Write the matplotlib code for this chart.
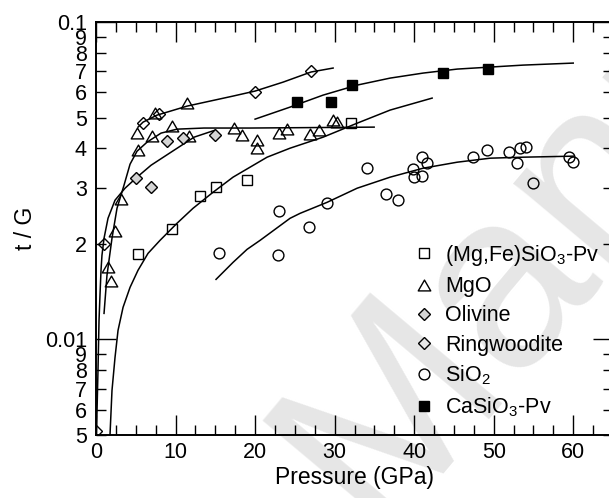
import numpy as np
import matplotlib
matplotlib.use('Agg')
import matplotlib.pyplot as plt
from matplotlib.path import Path

plt.rcParams['font.family'] = ['Liberation Sans', 'DejaVu Sans']
plt.rcParams['mathtext.default'] = 'regular'

# measured points (pressure in GPa, t/G)
pv_p = [5.28, 9.56, 13.08, 15.1, 19.0, 32.1]
pv_t = [0.01854, 0.02223, 0.02825, 0.03017, 0.03177, 0.04800]

mgo_p = [1.51, 1.89, 2.39, 3.14, 5.16, 5.28, 7.04, 7.42, 9.56, 11.45, 11.7,
         17.36, 18.36, 20.25, 20.25, 23.02, 24.03, 26.9, 28.05, 29.81, 30.31]
mgo_t = [0.01687, 0.01524, 0.02194, 0.02767, 0.04467, 0.03948, 0.04366, 0.05164,
         0.04698, 0.05551, 0.04366, 0.04634, 0.04399, 0.04246, 0.04009, 0.04467,
         0.04597, 0.04433, 0.04563, 0.04909, 0.04836]

ol_p = [5.03, 6.92, 8.93, 10.94, 14.97]
ol_t = [0.03221, 0.03017, 0.04217, 0.04307, 0.04399]

rw_p = [0.0, 1.01, 5.91, 7.92, 20.0, 27.04]
rw_t = [0.005164, 0.01994, 0.04800, 0.05129, 0.06015, 0.07005]

sio2_p = [15.47, 22.89, 23.02, 26.79, 29.06, 34.09, 36.48, 37.99, 39.87, 40.0, 41.01,
          41.64, 41.01, 47.42, 49.18, 51.95, 52.96, 53.33, 54.09, 54.97, 59.5, 60.0]
sio2_t = [0.01867, 0.01841, 0.02533, 0.02256, 0.02685, 0.03463, 0.02867, 0.02745,
          0.03438, 0.03245, 0.03751, 0.03591, 0.03269, 0.03751, 0.03946, 0.03890,
          0.03591, 0.04004, 0.04034, 0.03105, 0.03751, 0.03617]

capv_p = [25.28, 29.56, 32.2, 43.65, 49.3]
capv_t = [0.05592, 0.05592, 0.06327, 0.06904, 0.07107]

# fitted curves
fitA_p = [0.05, 0.13, 0.25, 0.38, 0.50, 0.63, 0.75, 1.01, 1.51, 2.39, 3.65, 5.16,
          6.92, 9.43, 12.33, 14.97]
fitA_t = [0.0050, 0.00597, 0.00799, 0.01148, 0.01376, 0.01651, 0.01841, 0.02083,
          0.02408, 0.02745, 0.02995, 0.03245, 0.03538, 0.03889, 0.04337, 0.04563]

fitB_p = [1.01, 1.38, 2.01, 2.64, 3.52, 4.28, 5.16, 6.42, 8.18, 10.19, 13.58, 19.37, 34.97]
fitB_t = [0.01208, 0.01592, 0.02083, 0.02589, 0.03060, 0.03565, 0.03918, 0.04183,
          0.04467, 0.04597, 0.04634, 0.04634, 0.04665]

fitC_p = [5.28, 5.91, 7.67, 11.45, 17.23, 20.0, 23.52, 27.04, 29.81]
fitC_t = [0.04665, 0.04836, 0.05088, 0.05433, 0.05843, 0.06059, 0.06465, 0.06958, 0.07160]

fitD_p = [1.76, 2.01, 2.39, 2.77, 3.40, 4.28, 5.28, 6.54, 8.05, 10.19, 12.20, 14.72,
          17.23, 21.51, 24.40, 28.55, 32.83, 36.98, 42.26]
fitD_t = [0.0050, 0.006905, 0.008772, 0.01068, 0.01262, 0.01459, 0.01651, 0.01867,
          0.02052, 0.02323, 0.02589, 0.02909, 0.03245, 0.03751, 0.04004, 0.04337,
          0.04800, 0.05279, 0.05758]

fitE_p = [20.0, 24.40, 28.55, 32.83, 36.98, 41.13, 45.41, 49.56, 53.71, 60.0]
fitE_t = [0.04943, 0.05394, 0.05884, 0.06327, 0.06657, 0.06904, 0.07107, 0.07211,
          0.07315, 0.07423]

fitF_p = [15.09, 17.23, 18.99, 20.63, 24.40, 25.66, 29.06, 32.83, 36.98, 41.13,
          45.41, 49.56, 53.71, 60.0]
fitF_t = [0.01546, 0.01749, 0.01922, 0.02052, 0.02408, 0.02496, 0.02704, 0.02995,
          0.03245, 0.03463, 0.03617, 0.03724, 0.03751, 0.03779]

x_major = [0, 10, 20, 30, 40, 50, 60]
y_major = [0.01, 0.1]
y_major_labels = ['0.01', '0.1']
y_minor = [0.005, 0.006, 0.007, 0.008, 0.009,
           0.02, 0.03, 0.04, 0.05, 0.06, 0.07, 0.08, 0.09]
y_minor_labels = ['5', '6', '7', '8', '9', '2', '3', '4', '5', '6', '7', '8', '9']

fig = plt.figure(figsize=(6.09, 4.98), dpi=100)
ax = fig.add_axes([96 / 609, 1 - 435 / 498, 517 / 609, 413 / 498])

# watermark
ax.text(235 / 609, -0.03, 'Manuscript', transform=fig.transFigure, rotation=50,
        fontsize=180, color='#e6e6e6', ha='left', va='baseline', zorder=0,
        clip_on=False)

lw = 1.1
for px, py in [(fitA_p, fitA_t), (fitB_p, fitB_t), (fitC_p, fitC_t),
               (fitD_p, fitD_t), (fitE_p, fitE_t), (fitF_p, fitF_t)]:
    ax.plot(px, py, color='black', lw=lw, zorder=2)

tri = Path([(0, 0.433), (-0.5, -0.433), (0.5, -0.433), (0, 0.433)],
           [Path.MOVETO, Path.LINETO, Path.LINETO, Path.CLOSEPOLY])

mk = dict(ls='none', mec='black', mew=1.0, zorder=3)
ax.plot(pv_p, pv_t, marker='s', ms=7.6, mfc='none', label=r'(Mg,Fe)SiO$_3$-Pv', **mk)
ax.plot(mgo_p, mgo_t, marker=tri, ms=9, mfc='none', label='MgO', **mk)
ax.plot(ol_p, ol_t, marker='D', ms=6.3, mfc='#d4d4d4', label='Olivine', **mk)
ax.plot(rw_p, rw_t, marker='D', ms=6.3, mfc='none', label='Ringwoodite', **mk)
ax.plot(sio2_p, sio2_t, marker='o', ms=7.8, mfc='none', label=r'SiO$_2$', **mk)
ax.plot(capv_p, capv_t, marker='s', ms=7.6, mfc='black', label=r'CaSiO$_3$-Pv', **mk)

ax.set_yscale('log')
ax.set_xlim(0, 65)
ax.set_ylim(0.005, 0.1)
ax.set_xticks(x_major)
ax.set_xticks(np.arange(0, 65, 2.5), minor=True)
ax.set_yticks(y_major, labels=y_major_labels)
ax.set_yticks(y_minor, labels=y_minor_labels, minor=True)

ax.tick_params(which='both', direction='in', top=True, right=True, labelsize=15.5,
               width=1.0)
ax.tick_params(which='major', length=14.4)
ax.tick_params(which='minor', length=7.2)
ax.tick_params(axis='y', which='both', pad=6.5)
ax.tick_params(axis='x', which='both', pad=5)
for s in ax.spines.values():
    s.set_linewidth(1.4)

ax.set_xlabel('Pressure (GPa)', fontsize=16.5)
ax.xaxis.set_label_coords(0.5, -0.075)
ax.set_ylabel('t / G', fontsize=16.5)
ax.yaxis.set_label_coords(-0.115, 0.5)

ax.legend(loc='upper left', bbox_to_anchor=(414 / 609, 1 - 243 / 498),
          bbox_transform=fig.transFigure, frameon=False, fontsize=15.5,
          numpoints=1, handlelength=0.9, handletextpad=0.55, labelspacing=0.38,
          borderpad=0, borderaxespad=0)

fig.savefig('out.png', dpi=100)
